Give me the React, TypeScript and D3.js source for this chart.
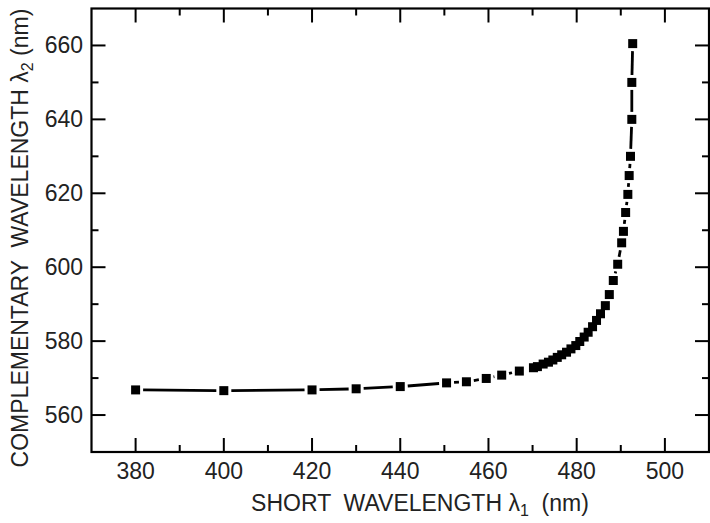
import React from "react";
import * as d3 from "d3";

const lambda1: number[] = [380, 400, 420, 430, 440, 450.5, 455, 459.5, 463, 467, 470.2, 471.1, 472.4, 473.6, 474.6, 475.6, 476.6, 477.7, 478.7, 479.8, 480.7, 481.7, 482.6, 483.6, 484.5, 485.4, 486.5, 487.4, 488.3, 489.3, 490.2, 490.6, 491.1, 491.6, 491.9, 492.2, 492.5, 492.5, 492.7];
const lambda2: number[] = [566.8, 566.6, 566.8, 567.1, 567.7, 568.7, 569.0, 569.9, 570.8, 571.9, 572.8, 573.1, 573.8, 574.3, 574.9, 575.6, 576.3, 577.0, 577.9, 578.8, 579.9, 581.1, 582.4, 583.9, 585.6, 587.4, 589.6, 592.6, 596.4, 600.8, 606.6, 609.7, 614.8, 619.7, 624.8, 630.0, 640.0, 650.0, 660.5];

const xMajor: number[] = [380, 400, 420, 440, 460, 480, 500];
const xMinor: number[] = [390, 410, 430, 450, 470, 490];
const yMajor: number[] = [560, 580, 600, 620, 640, 660];
const yMinor: number[] = [570, 590, 610, 630, 650];

const W = 710;
const H = 523;
const L = 91.5, R = 709, T = 8.5, B = 452;

export default function App() {
  const x = d3.scaleLinear().domain([370, 510]).range([L, R]);
  const y = d3.scaleLinear().domain([550, 670]).range([B, T]);
  const pts = lambda1.map((v, i) => [x(v), y(lambda2[i])] as [number, number]);
  const gap = 7.5;
  const segs: { x1: number; y1: number; x2: number; y2: number }[] = [];
  for (let i = 0; i < pts.length - 1; i++) {
    const [ax, ay] = pts[i];
    const [bx, by] = pts[i + 1];
    const dx = bx - ax, dy = by - ay;
    const len = Math.hypot(dx, dy);
    if (len <= 2 * gap) continue;
    const ux = dx / len, uy = dy / len;
    segs.push({ x1: ax + ux * gap, y1: ay + uy * gap, x2: bx - ux * gap, y2: by - uy * gap });
  }
  const font = "'Liberation Sans', Arial, Helvetica, sans-serif";
  const sq = 9;
  const majLen = 14, minLen = 7;
  const fs = 23;
  return (
    <svg width={W} height={H} style={{ position: "absolute", left: 0, top: 0, background: "#fff" }} fontFamily={font}>
      <rect x={0} y={0} width={W} height={H} fill="#fff" />
      {segs.map((s, i) => (
        <line key={"s" + i} x1={s.x1} y1={s.y1} x2={s.x2} y2={s.y2} stroke="#000" strokeWidth={2.8} />
      ))}
      {pts.map(([px, py], i) => (
        <rect key={"p" + i} x={px - sq / 2} y={py - sq / 2} width={sq} height={sq} fill="#000" />
      ))}
      {xMajor.map((v) => (
        <g key={"xm" + v}>
          <line x1={x(v)} x2={x(v)} y1={B} y2={B - majLen} stroke="#000" strokeWidth={2} />
          <line x1={x(v)} x2={x(v)} y1={T} y2={T + majLen} stroke="#000" strokeWidth={2} />
          <text x={x(v)} y={479} fontSize={fs} textAnchor="middle" fill="#222">{v}</text>
        </g>
      ))}
      {xMinor.map((v) => (
        <g key={"xn" + v}>
          <line x1={x(v)} x2={x(v)} y1={B} y2={B - minLen} stroke="#000" strokeWidth={2} />
          <line x1={x(v)} x2={x(v)} y1={T} y2={T + minLen} stroke="#000" strokeWidth={2} />
        </g>
      ))}
      {yMajor.map((v) => (
        <g key={"ym" + v}>
          <line x1={L} x2={L + majLen} y1={y(v)} y2={y(v)} stroke="#000" strokeWidth={2} />
          <line x1={R} x2={R - majLen} y1={y(v)} y2={y(v)} stroke="#000" strokeWidth={2} />
          <text x={83} y={y(v) + 8} fontSize={fs} textAnchor="end" fill="#222">{v}</text>
        </g>
      ))}
      {yMinor.map((v) => (
        <g key={"yn" + v}>
          <line x1={L} x2={L + minLen} y1={y(v)} y2={y(v)} stroke="#000" strokeWidth={2} />
          <line x1={R} x2={R - minLen} y1={y(v)} y2={y(v)} stroke="#000" strokeWidth={2} />
        </g>
      ))}
      <rect x={L} y={T} width={R - L} height={B - T} fill="none" stroke="#000" strokeWidth={2.2} />
      <text x={420} y={511} fontSize={fs} textAnchor="middle" fill="#222" style={{ whiteSpace: "pre" }}>
        {"SHORT  WAVELENGTH λ"}
        <tspan fontSize={16} dy={5}>1</tspan>
        <tspan dy={-5}>{"  (nm)"}</tspan>
      </text>
      <text transform={`translate(28, 238) rotate(-90)`} fontSize={fs} textAnchor="middle" fill="#222" style={{ whiteSpace: "pre" }}>
        {"COMPLEMENTARY  WAVELENGTH λ"}
        <tspan fontSize={16} dy={5}>2</tspan>
        <tspan dy={-5}>{" (nm)"}</tspan>
      </text>
    </svg>
  );
}
